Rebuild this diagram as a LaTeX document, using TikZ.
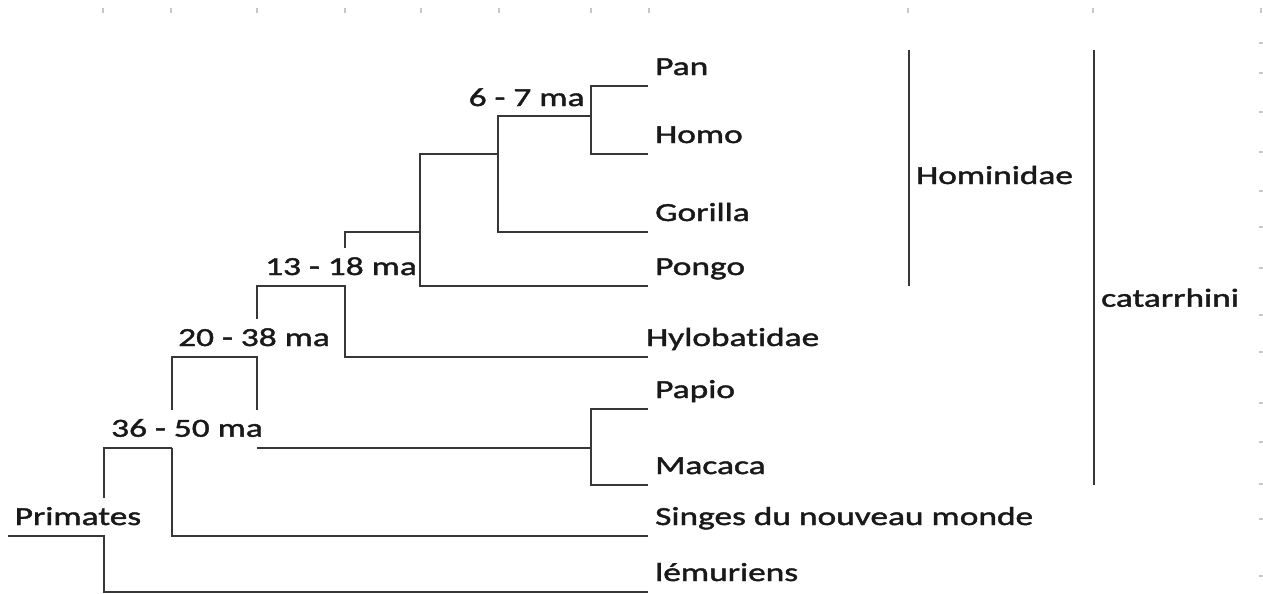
\documentclass[tikz,border=0pt]{standalone}
\usepackage{fontspec}
\setmainfont{Carlito}[FakeStretch=1.36, FakeBold=1.6, Ligatures=NoCommon]
\usepackage{tikz}
\usepackage{xcolor}
\definecolor{branchGray}{RGB}{55,55,55}
\definecolor{labelBlack}{RGB}{25,25,25}
\definecolor{tickGray}{RGB}{200,200,200}

\tikzset{
  branch/.style={draw=branchGray, line width=2.2pt},
  cladebar/.style={draw=branchGray, line width=2.2pt},
  taxon/.style={font=\fontsize{26}{30}\selectfont, text=labelBlack, anchor=base west, inner sep=0pt},
  age/.style={taxon, inner ysep=10pt, text height=17pt, text depth=0pt},
  gridtick/.style={draw=tickGray, line width=1.2pt}
}

\begin{document}
\begin{tikzpicture}[x=1pt,y=-1pt]
  \useasboundingbox (0,0) rectangle (1263,594);

  % faint ruler ticks
  \foreach \tx in {103,171,257,345,421,499,591,649,908,1093,1261}
    \draw[gridtick] (\tx,8) -- (\tx,13);
  \foreach \ty in {43,73,112,152,191,227,268,315,352,403,442,484,519,576}
    \draw[gridtick] (1259,\ty) -- (1263,\ty);

  % leaves
  \foreach \leaf/\ly/\lx/\txt in {pan/86/655/Pan, homo/154/655/Homo,
      gorilla/232/655/Gorilla, pongo/286/655/Pongo, hylo/357/646/Hylobatidae,
      papio/409/655/Papio, macaca/485/655/Macaca,
      singes/536/655/Singes du nouveau monde, lemur/592/655/lémuriens} {
    \coordinate (\leaf) at (648,\ly);
    \node[taxon] (t\leaf) at (\lx,\ly-11) {\txt};
  }

  % internal nodes
  \coordinate (hp)  at (591,116);
  \coordinate (hg)  at (498,154);
  \coordinate (hpo) at (420,232);
  \coordinate (hy)  at (345,286);
  \coordinate (cat) at (257,357);
  \coordinate (ow)  at (591,448);
  \coordinate (sim) at (172,448);
  \coordinate (pri) at (104,536);
  \coordinate (stem) at (8,536);

  % ages
  \node[age] (t67)   at (468.5,106) {6 - 7 ma};
  \node[age] (t1318) at (265,275)   {13 - 18 ma};
  \node[age] (t2038) at (178,346)   {20 - 38 ma};
  \node[age] (t3650) at (111,436.7) {36 - 50 ma};
  \node[age] (tprim) at (14.5,525)  {Primates};

  % Hominidae
  \draw[branch] (pan) -| (hp) |- (homo);
  \draw[branch] (hp) -| (hg) |- (gorilla);
  \draw[branch] (hg) -| (hpo) |- (pongo);
  \draw[branch] (hpo) -| (t1318.north -| hy);
  \draw[branch] (t1318.south -| hy) |- (hylo);

  % catarrhini
  \draw[branch] (hy) -| (t2038.north -| cat);
  \draw[branch] (t2038.south -| cat) -- (t3650.north -| cat);
  \draw[branch] (ow -| cat) -- (ow);
  \draw[branch] (papio) -| (ow) |- (macaca);

  % simiens, primates
  \draw[branch] (cat) -| (t3650.north -| sim);
  \draw[branch] (sim) |- (singes);
  \draw[branch] (sim) -| (tprim.north -| pri);
  \draw[branch] (tprim.south -| pri) |- (lemur);
  \draw[branch] (stem) -- (pri);

  % clade bars
  \coordinate (homtop) at (909,50);
  \coordinate (hombot) at (909,286);
  \coordinate (cattop) at (1094,50);
  \coordinate (catbot) at (1094,485);
  \draw[cladebar] (homtop) -- (hombot);
  \draw[cladebar] (cattop) -- (catbot);
  \node[taxon] (thom) at (916,184)    {Hominidae};
  \node[taxon] (tcat) at (1101,306.7) {catarrhini};
\end{tikzpicture}
\end{document}
